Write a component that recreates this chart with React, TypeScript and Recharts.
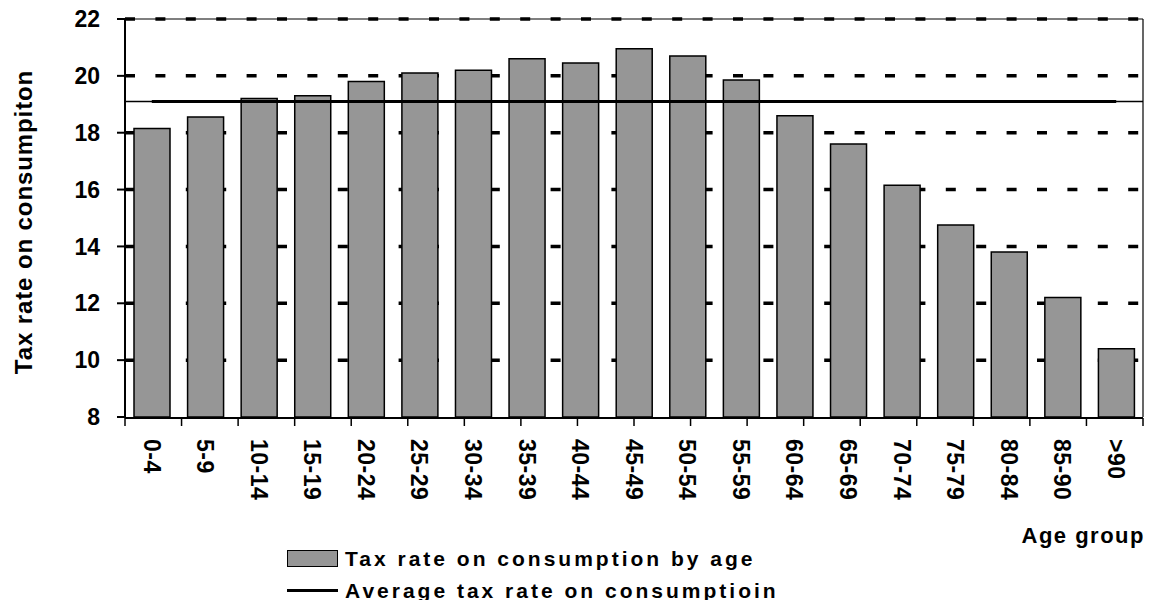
import {
  Bar,
  CartesianGrid,
  ComposedChart,
  Legend,
  Line,
  ReferenceLine,
  XAxis,
  YAxis,
} from "recharts";

const AGE_GROUPS = [
  "0-4", "5-9", "10-14", "15-19", "20-24", "25-29", "30-34", "35-39", "40-44", "45-49",
  "50-54", "55-59", "60-64", "65-69", "70-74", "75-79", "80-84", "85-90", ">90",
];
const TAX_RATE = [
  18.15, 18.55, 19.2, 19.3, 19.8, 20.1, 20.2, 20.6, 20.45, 20.95,
  20.7, 19.85, 18.6, 17.6, 16.15, 14.75, 13.8, 12.2, 10.4,
];
const AVERAGE_RATE = 19.1;
const Y_TICKS = [8, 10, 12, 14, 16, 18, 20, 22];
const GRID_VALUES = [10, 12, 14, 16, 18, 20, 22];

const data = AGE_GROUPS.map((age, i) => ({ age, rate: TAX_RATE[i], avg: AVERAGE_RATE }));
// boundaries between the age bands, used for the bottom tick marks
const EDGE_TICKS = [...AGE_GROUPS.map((_, i) => i), AGE_GROUPS.length];

const FONT = "'Liberation Sans', Arial, sans-serif";
const BAR_FILL = "#969696";

function AgeTick(props: any) {
  const { x, y, payload } = props;
  return (
    <text
      x={x}
      y={y}
      transform={`rotate(90, ${x}, ${y})`}
      textAnchor="start"
      dy="0.36em"
      fontFamily={FONT}
      fontWeight={700}
      fontSize={23}
      letterSpacing={0.5}
      fill="#000"
    >
      {payload.value}
    </text>
  );
}

const NoLabel = () => <g />;

function YTitle(props: any) {
  const vb = props.viewBox ?? { x: 0, y: 0, width: 0, height: 0 };
  const cy = vb.y + vb.height / 2 + 4;
  return (
    <text
      transform={`translate(32, ${cy}) rotate(-90)`}
      textAnchor="middle"
      fontFamily={FONT}
      fontWeight={700}
      fontSize={24}
      letterSpacing={0.9}
      fill="#000"
    >
      Tax rate on consumpiton
    </text>
  );
}

function XTitle(props: any) {
  const vb = props.viewBox ?? { x: 0, y: 0, width: 0, height: 0 };
  return (
    <text
      x={vb.x + vb.width + 2}
      y={vb.y + 126}
      textAnchor="end"
      fontFamily={FONT}
      fontWeight={700}
      fontSize={22}
      letterSpacing={1.5}
      fill="#000"
    >
      Age group
    </text>
  );
}

function LegendBox() {
  const row: React.CSSProperties = { display: "flex", alignItems: "center", height: 31.5 };
  const label: React.CSSProperties = {
    fontFamily: FONT,
    fontWeight: 700,
    fontSize: 21,
    letterSpacing: 3,
    lineHeight: 1,
    marginLeft: 7,
    color: "#000",
    whiteSpace: "nowrap",
  };
  return (
    <div>
      <div style={row}>
        <span style={{ width: 51, height: 17, background: BAR_FILL, border: "1.5px solid #000", boxSizing: "border-box" }} />
        <span style={label}>Tax rate on consumption by age</span>
      </div>
      <div style={row}>
        <span style={{ width: 51, height: 2.5, background: "#000" }} />
        <span style={label}>Average tax rate on consumptioin</span>
      </div>
    </div>
  );
}

export default function App() {
  return (
    <div style={{ position: "absolute", left: 0, top: 0, width: 1156, height: 600, background: "#fff" }}>
      <ComposedChart
        width={1156}
        height={600}
        data={data}
        margin={{ top: 19, right: 12, bottom: 181, left: 0 }}
      >
        {/* dashed gridlines, none on the baseline */}
        <CartesianGrid
          vertical={false}
          horizontalValues={GRID_VALUES}
          stroke="#000"
          strokeWidth={3.5}
          strokeDasharray="10 20.4"
        />
        <XAxis
          xAxisId="edges"
          type="number"
          domain={[0, AGE_GROUPS.length]}
          allowDataOverflow
          ticks={EDGE_TICKS}
          interval={0}
          height={1}
          tick={NoLabel}
          tickSize={8}
          tickLine={{ stroke: "#000", strokeWidth: 1.5 }}
          axisLine={{ stroke: "#000", strokeWidth: 2 }}
        />
        <XAxis
          dataKey="age"
          height={1}
          axisLine={false}
          tickLine={false}
          tickSize={0}
          tickMargin={22}
          interval={0}
          tick={<AgeTick />}
          label={<XTitle />}
        />
        <YAxis
          domain={[8, 22]}
          ticks={Y_TICKS}
          width={125}
          allowDataOverflow
          tickSize={8}
          tickMargin={17}
          tickLine={{ stroke: "#000", strokeWidth: 2 }}
          axisLine={{ stroke: "#000", strokeWidth: 2 }}
          tick={{ fontFamily: FONT, fontWeight: 700, fontSize: 23, fill: "#000" }}
          label={<YTitle />}
        />
        <YAxis
          yAxisId="frame"
          orientation="right"
          domain={[8, 22]}
          allowDataOverflow
          width={1}
          tick={false}
          tickLine={false}
          axisLine={{ stroke: "#000", strokeWidth: 1.2 }}
        />
        <ReferenceLine y={22} stroke="#000" strokeWidth={1.2} />
        <Bar
          dataKey="rate"
          fill={BAR_FILL}
          stroke="#000"
          strokeWidth={1.5}
          barSize={36}
          isAnimationActive={false}
        />
        <ReferenceLine y={AVERAGE_RATE} stroke="#000" strokeWidth={1.5} />
        <Line
          dataKey="avg"
          type="linear"
          stroke="#000"
          strokeWidth={3}
          dot={false}
          activeDot={false}
          isAnimationActive={false}
        />
        <Legend
          layout="vertical"
          align="center"
          verticalAlign="middle"
          wrapperStyle={{ left: 287, top: 543, width: 600 }}
          content={() => <LegendBox />}
        />
      </ComposedChart>
    </div>
  );
}
